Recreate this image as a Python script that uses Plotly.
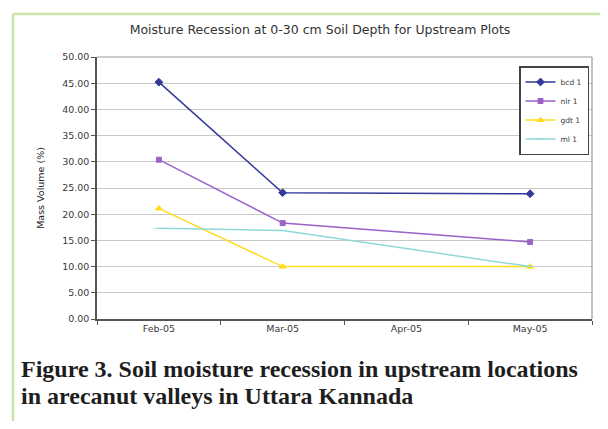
import plotly.graph_objects as go

months = ["Feb-05", "Mar-05", "Apr-05", "May-05"]
bcd = [45.2, 24.1, None, 23.9]
nlr = [30.4, 18.3, None, 14.7]
gdt = [21.1, 10.0, None, 10.0]
ml = [17.3, 16.9, None, 10.0]
series_names = ["bcd 1", "nlr 1", "gdt 1", "ml 1"]
y_ticks = [0, 5, 10, 15, 20, 25, 30, 35, 40, 45, 50]

colors = ["#35399a", "#9b63c8", "#ffdc1e", "#8fd8d8"]
symbols = ["diamond", "square", "triangle-up", "line-ew"]
sizes = [6, 5, 6, 6]

fig = go.Figure()
for name, vals, c, s, sz in zip(series_names, [bcd, nlr, gdt, ml], colors, symbols, sizes):
    fig.add_trace(go.Scatter(
        x=months, y=vals, name=name, mode="lines+markers", connectgaps=True,
        line=dict(color=c, width=1.5),
        marker=dict(symbol=s, size=sz, color=c, line=dict(color=c, width=1)),
    ))

OFF = 8  # page body margin offset
W, H = 608 - 2 * OFF, 429 - 2 * OFF
# target plot area in screenshot pixels
X0, X1, Y0, Y1 = 97, 592, 57, 319
L, T = X0 - OFF, Y0 - OFF
R, B = W - (X1 - OFF), H - (Y1 - OFF)
pw, ph = X1 - X0, Y1 - Y0

def px(x):
    return (x - X0) / pw

def py(y):
    return (Y1 - y) / ph

SANS = "DejaVu Sans, Verdana, sans-serif"
SERIF = "Liberation Serif, Times New Roman, serif"

fig.update_layout(
    width=W, height=H,
    margin=dict(l=L, r=R, t=T, b=B),
    paper_bgcolor="white", plot_bgcolor="white",
    font=dict(family=SANS, color="#3a3a3a", size=9),
    title=dict(text="Moisture Recession at 0-30 cm Soil Depth for Upstream Plots",
               x=px(320), xanchor="center", xref="paper",
               y=1 - (30 - OFF) / H, yanchor="middle",
               font=dict(size=12.5, color="#333333")),
    showlegend=True,
    legend=dict(x=px(519), y=py(66), xanchor="left", yanchor="top",
                bgcolor="white", bordercolor="#444444", borderwidth=1.5,
                font=dict(size=7.5), itemwidth=30, tracegroupgap=0,
                traceorder="normal"),
    xaxis=dict(type="category", categoryorder="array", categoryarray=months,
               tickson="boundaries", ticks="outside", ticklen=4, tickcolor="#555555",
               showline=True, linecolor="#555555", linewidth=1.5, mirror=False,
               showgrid=False, tickfont=dict(size=9.5), range=[-0.5, 3.5]),
    yaxis=dict(range=[0, 50], tickvals=y_ticks, tickformat=".2f",
               ticks="outside", ticklen=4, tickcolor="#555555",
               showline=True, linecolor="#555555", linewidth=1.5,
               gridcolor="#c8c8c8", gridwidth=1, tickfont=dict(size=9.5),
               title=dict(text="Mass Volume (%)", font=dict(size=9.5, color="#222222"),
                          standoff=16)),
)

shapes = [
    dict(type="line", xref="paper", yref="paper", x0=0, x1=1, y0=1, y1=1,
         line=dict(color="#999999", width=1.2)),
    dict(type="line", xref="paper", yref="paper", x0=1, x1=1, y0=0, y1=1,
         line=dict(color="#999999", width=1.2)),
    dict(type="line", xref="paper", yref="paper", x0=px(13), x1=px(13), y0=py(14), y1=py(H + 30),
         line=dict(color="#c9e4a6", width=2.5)),
    dict(type="line", xref="paper", yref="paper", x0=px(13), x1=px(W + 30), y0=py(14), y1=py(14),
         line=dict(color="#c9e4a6", width=2.5)),
]
fig.update_layout(shapes=shapes)

fig.add_annotation(text="<b>Figure 3. Soil moisture recession in upstream locations</b>",
                   xref="paper", yref="paper", x=px(19), y=py(369), xanchor="left", yanchor="middle",
                   showarrow=False, font=dict(family=SERIF, size=24, color="#1e1e1e"))
fig.add_annotation(text="<b>in arecanut valleys in Uttara Kannada</b>",
                   xref="paper", yref="paper", x=px(19), y=py(396), xanchor="left", yanchor="middle",
                   showarrow=False, font=dict(family=SERIF, size=24, color="#1e1e1e"))

fig.write_html("out.html")
